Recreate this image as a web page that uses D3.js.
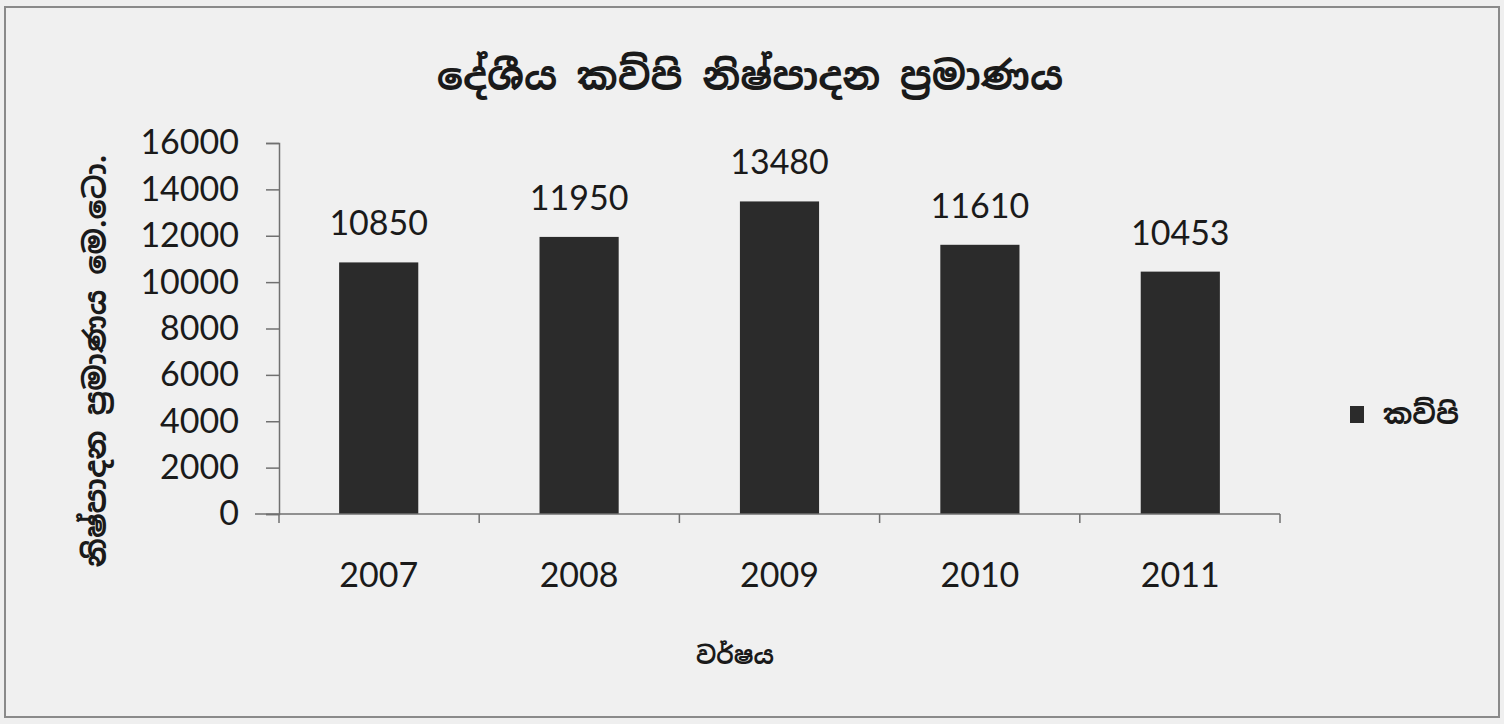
<!DOCTYPE html>
<html>
<head>
<meta charset="utf-8">
<script src="https://cdn.jsdelivr.net/npm/d3@7"></script>
<style>
  body { margin: 0; background: #efefef; }
  svg { display: block; }
</style>
</head>
<body>
<div id="wrapper"></div>
<script>
const years = ["2007", "2008", "2009", "2010", "2011"];
const production = [10850, 11950, 13480, 11610, 10453];
const yTicks = [0, 2000, 4000, 6000, 8000, 10000, 12000, 14000, 16000];

const titleText = "දේශීය කව්පි නිෂ්පාදන ප්‍රමාණය";
const yLabelText = "නිෂ්පාදන ප්‍රමාණය මෙ.ටො.";
const xLabelText = "වර්ෂය";
const legendText = "කව්පි";

const dimension = {
    width: 1504,
    height: 724,
    margin: { top: 143, left: 279, bottom: 210, right: 224 }
};
dimension.boundedWidth = dimension.width - dimension.margin.left - dimension.margin.right;
dimension.boundedHeight = dimension.height - dimension.margin.top - dimension.margin.bottom;

const numFont = "Lato, 'Open Sans', sans-serif";
const sinFont = "'Noto Sans Sinhala', 'Iskoola Pota', 'Noto Sans', sans-serif";

const svg = d3.select("#wrapper").append("svg")
    .attr("width", dimension.width)
    .attr("height", dimension.height);

// frame
svg.append("rect")
    .attr("x", 5).attr("y", 7)
    .attr("width", 1494).attr("height", 710)
    .attr("fill", "#f0f0f0")
    .attr("stroke", "#8a8a8a")
    .attr("stroke-width", 2);

const bounded = svg.append("g")
    .attr("transform", `translate(${dimension.margin.left}, ${dimension.margin.top})`);

const xScaler = d3.scaleBand()
    .domain(years)
    .range([0, dimension.boundedWidth])
    .paddingInner(0.605)
    .paddingOuter(0.3);

const yScaler = d3.scaleLinear()
    .domain([0, 16000])
    .range([dimension.boundedHeight, 0]);

// bars
bounded.selectAll(".bar")
    .data(production)
    .join("rect")
    .attr("class", "bar")
    .attr("x", (d, i) => xScaler(years[i]))
    .attr("y", d => yScaler(d))
    .attr("width", xScaler.bandwidth())
    .attr("height", d => yScaler(0) - yScaler(d))
    .attr("fill", "#2b2b2b");

// value labels
bounded.selectAll(".val")
    .data(production)
    .join("text")
    .attr("class", "val")
    .attr("x", (d, i) => xScaler(years[i]) + xScaler.bandwidth() / 2)
    .attr("y", d => yScaler(d) - 27)
    .attr("text-anchor", "middle")
    .attr("font-family", numFont)
    .attr("font-size", 34)
    .attr("fill", "#1a1a1a")
    .text(d => d);

// y axis
const yAxis = bounded.append("g")
    .call(d3.axisLeft(yScaler).tickValues(yTicks).tickSize(13).tickPadding(27).tickFormat(d3.format("d")));
yAxis.selectAll("text")
    .attr("font-family", numFont)
    .attr("font-size", 34)
    .attr("fill", "#1a1a1a");
yAxis.selectAll("line, path").attr("stroke", "#707070").attr("stroke-width", 1.5);

// x axis with category-boundary ticks
const xAxisG = bounded.append("g")
    .attr("transform", `translate(0, ${dimension.boundedHeight})`);
xAxisG.append("line")
    .attr("x1", -24).attr("x2", dimension.boundedWidth)
    .attr("stroke", "#707070").attr("stroke-width", 1.5);
const step = dimension.boundedWidth / years.length;
xAxisG.selectAll(".xtick")
    .data(d3.range(years.length + 1))
    .join("line")
    .attr("class", "xtick")
    .attr("x1", i => i * step).attr("x2", i => i * step)
    .attr("y1", 0).attr("y2", 9)
    .attr("stroke", "#707070").attr("stroke-width", 1.5);
xAxisG.selectAll(".xlab")
    .data(years)
    .join("text")
    .attr("class", "xlab")
    .attr("x", d => xScaler(d) + xScaler.bandwidth() / 2)
    .attr("y", 73)
    .attr("text-anchor", "middle")
    .attr("font-family", numFont)
    .attr("font-size", 34)
    .attr("fill", "#1a1a1a")
    .text(d => d);

// title
svg.append("text")
    .attr("x", 750).attr("y", 90)
    .attr("text-anchor", "middle")
    .attr("font-family", sinFont)
    .attr("font-size", 39)
    .attr("font-weight", "bold")
    .attr("fill", "#1a1a1a")
    .text(titleText);

// y label
svg.append("text")
    .attr("transform", "translate(106, 361) rotate(-90)")
    .attr("text-anchor", "middle")
    .attr("font-family", sinFont)
    .attr("font-size", 30)
    .attr("font-weight", "bold")
    .attr("fill", "#1a1a1a")
    .text(yLabelText);

// x label
svg.append("text")
    .attr("x", 735).attr("y", 664)
    .attr("text-anchor", "middle")
    .attr("font-family", sinFont)
    .attr("font-size", 24)
    .attr("font-weight", "bold")
    .attr("fill", "#1a1a1a")
    .text(xLabelText);

// legend
const legend = svg.append("g").attr("transform", "translate(1350, 406)");
legend.append("rect")
    .attr("width", 14).attr("height", 17)
    .attr("fill", "#2b2b2b");
legend.append("text")
    .attr("x", 33).attr("y", 18)
    .attr("font-family", sinFont)
    .attr("font-size", 28)
    .attr("font-weight", "bold")
    .attr("fill", "#1a1a1a")
    .text(legendText);
</script>
</body>
</html>
